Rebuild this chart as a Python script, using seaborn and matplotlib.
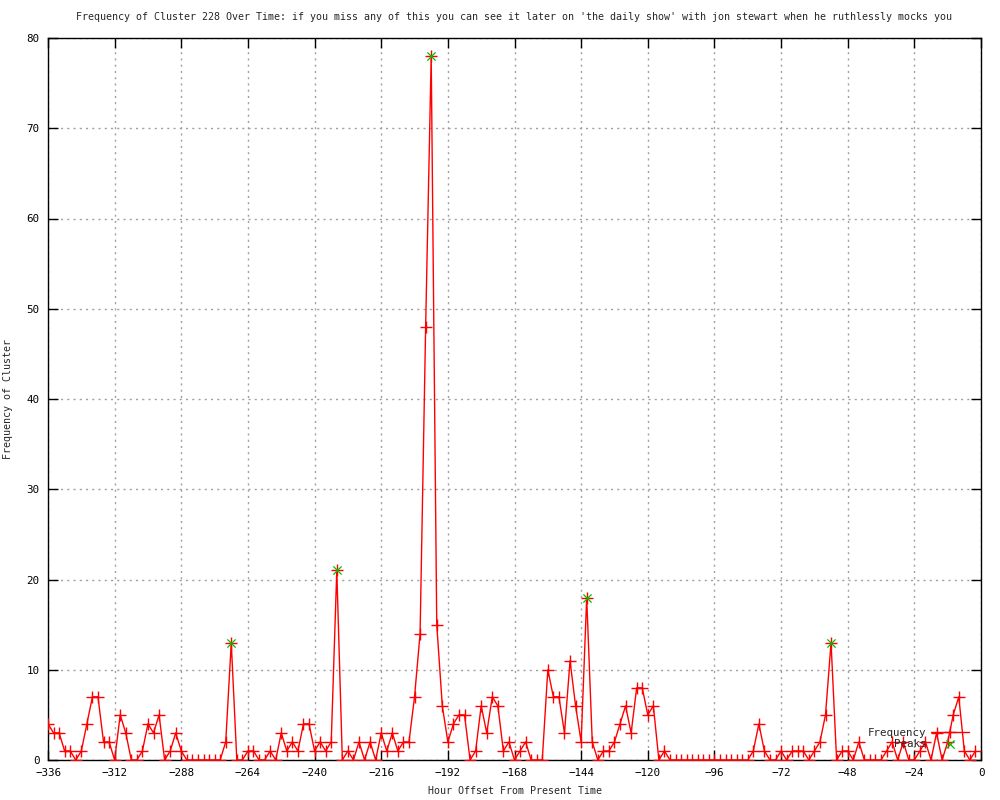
import pandas as pd
import matplotlib.pyplot as plt
import seaborn as sns

# hourly buckets, 2 h apart
hours = list(range(-336, 0, 2))
freq = [
    4, 3, 3, 1, 1, 0, 1, 4, 7, 7, 2, 2,          # -336 .. -314
    0, 5, 3, 0, 0, 1, 4, 3, 5, 0, 1, 3,          # -312 .. -290
    1, 0, 0, 0, 0, 0, 0, 0, 2, 13, 0, 0,         # -288 .. -266
    1, 1, 0, 0, 1, 0, 3, 1, 2, 1, 4, 4,          # -264 .. -242
    1, 2, 1, 2, 21, 0, 1, 0, 2, 0, 2, 0,         # -240 .. -218
    3, 1, 3, 1, 2, 2, 7, 14, 48, 78, 15, 6,      # -216 .. -194
    2, 4, 5, 5, 0, 1, 6, 3, 7, 6, 1, 2,          # -192 .. -170
    0, 1, 2, 0, 0, 0, 10, 7, 7, 3, 11, 6,        # -168 .. -146
    2, 18, 2, 0, 1, 1, 2, 4, 6, 3, 8, 8,         # -144 .. -122
    5, 6, 0, 1, 0, 0, 0, 0, 0, 0, 0, 0,          # -120 .. -98
    0, 0, 0, 0, 0, 0, 0, 1, 4, 1, 0, 0,          # -96 .. -74
    1, 0, 1, 1, 1, 0, 1, 2, 5, 13, 0, 1,         # -72 .. -50
    1, 0, 2, 0, 0, 0, 0, 1, 2, 0, 2, 0,          # -48 .. -26
    0, 1, 2, 0, 3, 0, 2, 5, 7, 1, 0, 1,          # -24 .. -2
]
peak_hours = [-270, -232, -198, -142, -54]
peak_freq = [13, 21, 78, 18, 13]

title = ("Frequency of Cluster 228 Over Time: if you miss any of this you can see it later "
         "on 'the daily show' with jon stewart when he ruthlessly mocks you")

sns.set_style("ticks")
plt.rcParams['font.family'] = ['DejaVu Sans Mono', 'DejaVu Sans']

df = pd.DataFrame({"hour": hours, "freq": freq})
peaks = pd.DataFrame({"hour": peak_hours, "freq": peak_freq})

fig = plt.figure(figsize=(10, 8), dpi=100)
ax = fig.add_axes([0.048, 0.05, 0.933, 0.9025])

sns.lineplot(data=df, x="hour", y="freq", ax=ax, color="#ff0000", linewidth=1.0,
             marker="+", markersize=8, markeredgewidth=1.0, markeredgecolor="#ff0000",
             label="Frequency", zorder=3)
sns.scatterplot(data=peaks, x="hour", y="freq", ax=ax, color="#00c000", marker="x",
                s=35, linewidth=0.9, label="Peaks", zorder=4)

ax.set_xlim(-336, 0)
ax.set_ylim(0, 80)
ax.set_xticks(range(-336, 1, 24))
ax.set_yticks(range(0, 81, 10))
ax.tick_params(direction="in", length=7, width=1, top=True, right=True,
               labelsize=7.8, colors="black", pad=6)
ax.grid(True, color="#a0a0a0", linestyle=(0, (1.5, 3)), linewidth=1)
for s in ax.spines.values():
    s.set_color("black")
    s.set_linewidth(1)

ax.set_title(title, fontsize=7.2, pad=13)
ax.set_xlabel("Hour Offset From Present Time", fontsize=7.2)
ax.set_ylabel("Frequency of Cluster", fontsize=7.2)
ax.xaxis.set_label_coords(0.5, -0.036)
ax.yaxis.set_label_coords(-0.037, 0.5)

ax.legend(loc="lower right", bbox_to_anchor=(0.995, 0.005), frameon=False,
          markerfirst=False, fontsize=7.8, handlelength=3.5, labelspacing=0.1,
          handletextpad=0.4, borderpad=0.2)

plt.savefig("out.png", dpi=100)
